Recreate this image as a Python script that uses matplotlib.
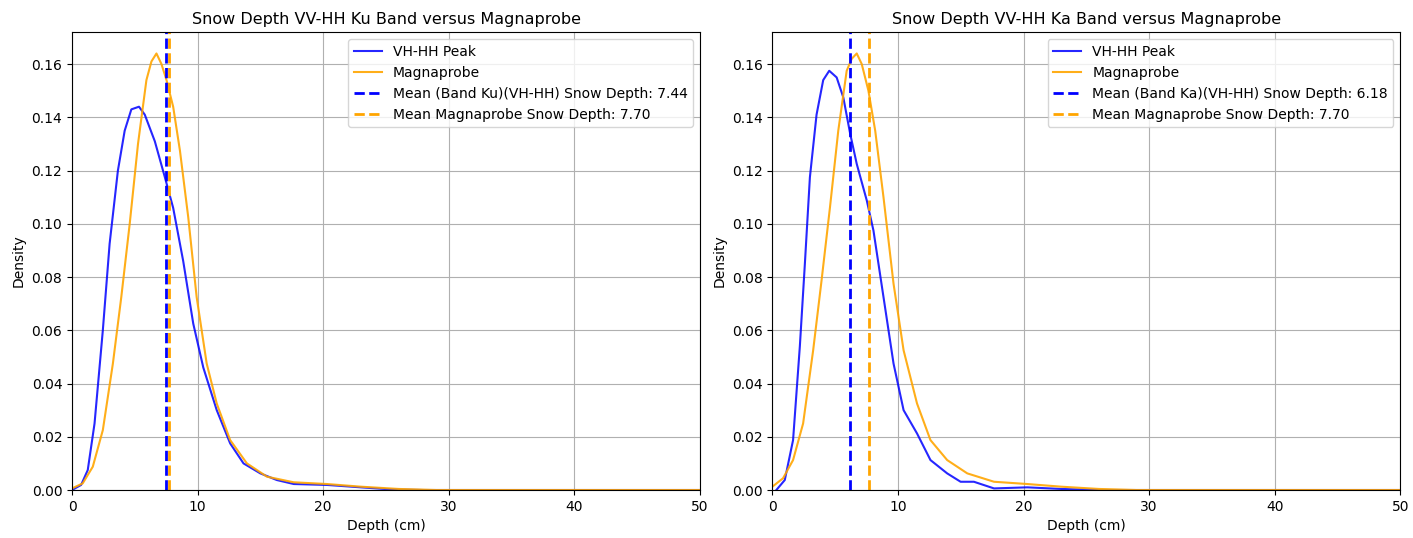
import matplotlib.pyplot as plt

# depth grid (cm) and KDE densities
ku_x = [0, 0.72, 1.25, 1.79, 2.45, 2.99, 3.65, 4.19, 4.72, 5.33, 5.79, 6.59, 7.39, 8.05,
        8.85, 9.65, 10.45, 11.52, 12.59, 13.65, 14.99, 16.3, 17.65, 20.3, 23, 25.5, 28, 50]
ku_y = [0, 0.0019, 0.0075, 0.025, 0.06, 0.0925, 0.12, 0.135, 0.143, 0.144, 0.141, 0.131,
        0.1175, 0.106, 0.086, 0.0625, 0.046, 0.03, 0.0175, 0.01, 0.00625, 0.00375, 0.00225,
        0.0019, 0.001, 0.0002, 0, 0]

ku_mag_x = [0, 0.85, 1.65, 2.45, 3.25, 3.92, 4.59, 5.25, 5.92, 6.32, 6.72, 7.12, 7.52, 8.05,
            8.59, 9.25, 9.92, 10.72, 11.52, 12.59, 13.92, 15.52, 17.65, 20.3, 23, 26, 29, 50]
ku_mag_y = [0.0006, 0.0025, 0.00875, 0.0225, 0.0475, 0.0725, 0.1, 0.13, 0.154, 0.161, 0.164,
            0.16, 0.154, 0.144, 0.1275, 0.1025, 0.0725, 0.0475, 0.0325, 0.01875, 0.01, 0.005,
            0.0029, 0.00225, 0.00125, 0.0004, 0, 0]

ka_x = [0.32, 0.99, 1.65, 2.19, 2.59, 2.99, 3.52, 4.05, 4.53, 5.12, 5.65, 6.19, 6.72, 7.52,
        8.05, 8.85, 9.65, 10.45, 11.52, 12.59, 13.92, 14.99, 16.05, 17.65, 20.3, 23, 26, 50]
ka_y = [0, 0.00375, 0.01875, 0.054, 0.085, 0.1175, 0.141, 0.154, 0.1575, 0.155, 0.1475, 0.134,
        0.1225, 0.10875, 0.0975, 0.0725, 0.0475, 0.03, 0.02125, 0.01125, 0.00625, 0.0031,
        0.0031, 0.0006, 0.001, 0.0004, 0, 0]

ka_mag_x = [0, 0.85, 1.65, 2.45, 3.25, 3.92, 4.59, 5.25, 5.92, 6.32, 6.72, 7.12, 7.65, 8.19,
            8.85, 9.65, 10.45, 11.52, 12.59, 13.92, 15.52, 17.65, 20.3, 23, 26, 29, 50]
ka_mag_y = [0.00125, 0.0044, 0.01125, 0.025, 0.0525, 0.0788, 0.10625, 0.135, 0.1575, 0.162,
            0.164, 0.16, 0.15, 0.135, 0.11, 0.0775, 0.0525, 0.0325, 0.01875, 0.01125, 0.00625,
            0.0031, 0.00225, 0.00125, 0.0004, 0, 0]

bands = ["Ku", "Ka"]
band_means = [7.44, 6.18]
mag_mean = 7.70

plt.rcParams['font.size'] = 10

fig = plt.figure(figsize=(14.13, 5.38), dpi=100)
ax1 = fig.add_axes([0.051, 0.0892, 0.4444, 0.851])
ax2 = fig.add_axes([0.5466, 0.0892, 0.4444, 0.851])

curves = [(ku_x, ku_y, ku_mag_x, ku_mag_y), (ka_x, ka_y, ka_mag_x, ka_mag_y)]

for ax, band, m, (bx, by, mx, my) in zip([ax1, ax2], bands, band_means, curves):
    ax.plot(bx, by, color='blue', lw=1.5, alpha=0.85, label='VH-HH Peak')
    ax.plot(mx, my, color='orange', lw=1.5, alpha=0.9, label='Magnaprobe')
    ax.axvline(m, color='blue', linestyle='--', lw=2,
               label=f'Mean (Band {band})(VH-HH) Snow Depth: {m:.2f}')
    ax.axvline(mag_mean, color='orange', linestyle='--', lw=2,
               label=f'Mean Magnaprobe Snow Depth: {mag_mean:.2f}')
    ax.set_xlim(0, 50)
    ax.set_ylim(0, 0.172)
    ax.set_title(f'Snow Depth VV-HH {band} Band versus Magnaprobe', fontsize=11.5)
    ax.set_xlabel('Depth (cm)')
    ax.set_ylabel('Density')
    ax.grid(True)
    ax.legend(loc='upper right')

fig.savefig('out.png')
